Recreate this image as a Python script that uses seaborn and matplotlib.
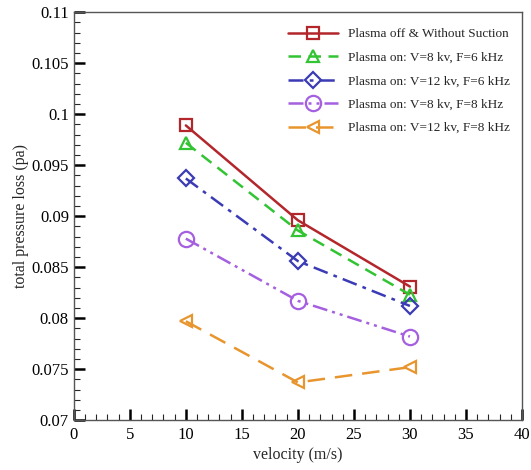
import numpy as np
import pandas as pd
import matplotlib.pyplot as plt
import seaborn as sns
from matplotlib.ticker import MultipleLocator

velocity = [10, 20, 30]
plasma_off = [0.0989, 0.0896, 0.0831]
v8_f6 = [0.0972, 0.0886, 0.0823]
v12_f6 = [0.0937, 0.0856, 0.0812]
v8_f8 = [0.0878, 0.0817, 0.0782]
v12_f8 = [0.0797, 0.0737, 0.0752]

labels = ['Plasma off & Without Suction',
          'Plasma on: V=8 kv, F=6 kHz',
          'Plasma on: V=12 kv, F=6 kHz',
          'Plasma on: V=8 kv, F=8 kHz',
          'Plasma on: V=12 kv, F=8 kHz']
colors = ['#b3262c', '#33c433', '#3b3bb5', '#a560e0', '#e8952e']
markers = ['s', '^', 'D', 'o', '<']
styles = ['-', (0, (5, 3)), (0, (6, 2.5, 1.5, 2.5)), (0, (6, 2, 1.2, 2, 1.2, 2)), (0, (7, 4))]
msizes = [8, 9, 8, 11, 9]

sns.set_style('white')
plt.rcParams['font.family'] = ['Liberation Serif', 'DejaVu Serif']

fig = plt.figure(figsize=(5.31, 4.70), dpi=100)
ax = fig.add_axes([0.139, 0.106, 0.844, 0.868])

all_series = [plasma_off, v8_f6, v12_f6, v8_f8, v12_f8]
for vals, lab, c, m, ls, ms in zip(all_series, labels, colors, markers, styles, msizes):
    df = pd.DataFrame({'velocity': velocity, 'loss': vals})
    sns.lineplot(data=df, x='velocity', y='loss', ax=ax, color=c, marker=m,
                 markersize=ms, markerfacecolor='none', markeredgecolor=c,
                 markeredgewidth=1.6, linestyle=ls, linewidth=1.8, label=lab)

ax.set_xlim(0, 40)
ax.set_ylim(0.07, 0.11)
ax.xaxis.set_major_locator(MultipleLocator(5))
ax.xaxis.set_minor_locator(MultipleLocator(1))
ax.yaxis.set_minor_locator(MultipleLocator(0.001))
ax.set_yticks([0.07, 0.075, 0.08, 0.085, 0.09, 0.095, 0.1, 0.105, 0.11])
ax.set_yticklabels(['0.07', '0.075', '0.08', '0.085', '0.09', '0.095', '0.1', '0.105', '0.11'])
ax.tick_params(which='major', direction='in', length=8, width=1.8, labelsize=12,
               bottom=True, left=True, top=False, right=False, colors='black')
ax.tick_params(axis='x', which='major', pad=5)
ax.tick_params(which='minor', direction='in', length=4, width=0.8,
               bottom=True, left=True, top=False, right=False)
for sp in ax.spines.values():
    sp.set_color('#555555')
    sp.set_linewidth(1.0)

ax.set_xlabel('velocity (m/s)', fontsize=11.5, labelpad=3)
ax.set_ylabel('total pressure loss (pa)', fontsize=11.5, labelpad=2)

leg = ax.legend(loc='upper right', frameon=False, fontsize=9.5, handlelength=3.8,
                labelspacing=0.85, borderaxespad=0.5, bbox_to_anchor=(1.0, 0.99))

plt.savefig('out.png', dpi=100)
